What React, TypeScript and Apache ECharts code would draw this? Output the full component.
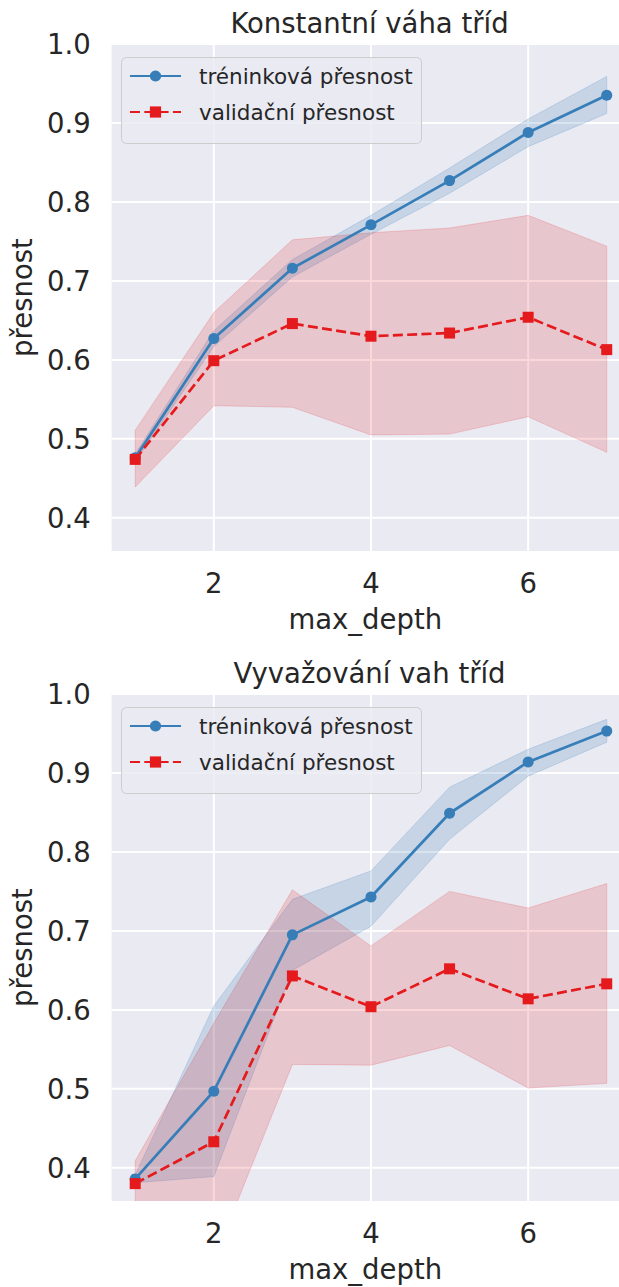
import React, { useEffect, useRef } from "react";
import * as echarts from "echarts";

// ---------- data ----------
const depths = [1, 2, 3, 4, 5, 6, 7];
const xTickValues = [2, 4, 6];
const yTickValues = [0.4, 0.5, 0.6, 0.7, 0.8, 0.9, 1.0];

const panelTitles = ["Konstantní váha tříd", "Vyvažování vah tříd"];
const xAxisLabel = "max_depth";
const yAxisLabel = "přesnost";
const trainName = "tréninková přesnost";
const valName = "validační přesnost";

// panel 1 – constant class weight
const trainMean1 = [0.476, 0.627, 0.716, 0.771, 0.827, 0.888, 0.935];
const trainUpper1 = [0.481, 0.637, 0.727, 0.783, 0.843, 0.905, 0.959];
const trainLower1 = [0.471, 0.617, 0.705, 0.759, 0.811, 0.870, 0.912];
const valMean1 = [0.474, 0.599, 0.646, 0.630, 0.634, 0.654, 0.613];
const valUpper1 = [0.511, 0.660, 0.752, 0.761, 0.767, 0.783, 0.744];
const valLower1 = [0.439, 0.542, 0.540, 0.505, 0.506, 0.528, 0.483];

// panel 2 – balanced class weights
const trainMean2 = [0.386, 0.497, 0.695, 0.743, 0.849, 0.914, 0.953];
const trainUpper2 = [0.391, 0.605, 0.740, 0.776, 0.882, 0.930, 0.968];
const trainLower2 = [0.381, 0.389, 0.650, 0.706, 0.816, 0.896, 0.939];
const valMean2 = [0.380, 0.433, 0.643, 0.604, 0.652, 0.614, 0.633];
const valUpper2 = [0.409, 0.583, 0.752, 0.681, 0.750, 0.729, 0.760];
const valLower2 = [0.351, 0.283, 0.531, 0.530, 0.555, 0.501, 0.507];

// ---------- style / layout ----------
const FONT = '"DejaVu Sans", sans-serif';
const TEXT = "#262626";
const BLUE = "#377eb8";
const RED = "#e41a1c";
const BG = "#EAEAF2";
const GRID_LEFT = 109;
const GRID_WIDTH = 510;
const GRID_HEIGHT = 507;
const GRID_TOPS = [44, 694];
const TITLE_X = 369.5;
const X_MIN = 0.7;
const X_MAX = 7.156;
const Y_MIN = 0.358;
const Y_MAX = 1.0;

const panels = [
  { trainMean: trainMean1, trainUpper: trainUpper1, trainLower: trainLower1, valMean: valMean1, valUpper: valUpper1, valLower: valLower1 },
  { trainMean: trainMean2, trainUpper: trainUpper2, trainLower: trainLower2, valMean: valMean2, valUpper: valUpper2, valLower: valLower2 },
];

function gridLineSeries(gi: number) {
  return {
    type: "custom",
    xAxisIndex: gi,
    yAxisIndex: gi,
    clip: true,
    silent: true,
    z: 1,
    data: [[X_MIN, Y_MIN]],
    renderItem: (params: any, api: any) => {
      const cs = params.coordSys;
      const children: any[] = [];
      xTickValues.forEach((v) => {
        const p = api.coord([v, Y_MIN]);
        children.push({ type: "line", shape: { x1: p[0], y1: cs.y, x2: p[0], y2: cs.y + cs.height }, style: { stroke: "#ffffff", lineWidth: 2 } });
      });
      yTickValues.forEach((v) => {
        const p = api.coord([X_MIN, v]);
        children.push({ type: "line", shape: { x1: cs.x, y1: p[1], x2: cs.x + cs.width, y2: p[1] }, style: { stroke: "#ffffff", lineWidth: 2 } });
      });
      return { type: "group", children };
    },
  };
}

function bandSeries(gi: number, lower: number[], upper: number[], fill: string, edge: string, z: number) {
  return {
    type: "custom",
    xAxisIndex: gi,
    yAxisIndex: gi,
    clip: true,
    silent: true,
    z,
    data: depths.map((d, i) => [d, lower[i], upper[i]]),
    encode: { x: 0, y: [1, 2] },
    renderItem: (params: any, api: any) => {
      if (params.dataIndexInside !== 0) return null;
      const top: number[][] = [];
      const bottom: number[][] = [];
      for (let i = 0; i < depths.length; i++) {
        top.push(api.coord([api.value(0, i), api.value(2, i)]));
        bottom.push(api.coord([api.value(0, i), api.value(1, i)]));
      }
      return {
        type: "polygon",
        shape: { points: top.concat(bottom.reverse()) },
        style: { fill, stroke: edge, lineWidth: 1 },
      };
    },
  };
}

function buildOption() {
  const series: any[] = [];
  panels.forEach((p, gi) => {
    series.push(gridLineSeries(gi));
    series.push(bandSeries(gi, p.trainLower, p.trainUpper, "rgba(55,126,184,0.2)", "rgba(55,126,184,0.2)", 2));
    series.push(bandSeries(gi, p.valLower, p.valUpper, "rgba(228,26,28,0.17)", "rgba(228,26,28,0.17)", 2));
    series.push({
      type: "line",
      name: trainName,
      xAxisIndex: gi,
      yAxisIndex: gi,
      data: depths.map((d, i) => [d, p.trainMean[i]]),
      symbol: "circle",
      symbolSize: 11,
      lineStyle: { color: BLUE, width: 2.7 },
      itemStyle: { color: BLUE },
      emphasis: { disabled: true },
      z: 3,
    });
    series.push({
      type: "line",
      name: valName,
      xAxisIndex: gi,
      yAxisIndex: gi,
      data: depths.map((d, i) => [d, p.valMean[i]]),
      symbol: "rect",
      symbolSize: 11,
      lineStyle: { color: RED, width: 2.7, type: [10, 4.3] },
      itemStyle: { color: RED },
      emphasis: { disabled: true },
      z: 3,
    });
  });

  const graphic: any[] = [];
  GRID_TOPS.forEach((t, gi) => {
    graphic.push({
      type: "text",
      x: TITLE_X,
      y: t - 21,
      z: 70,
      style: { text: panelTitles[gi], fill: TEXT, fontSize: 27.5, fontFamily: FONT, align: "center", verticalAlign: "middle" },
    });
    graphic.push({
      type: "rect",
      z: 50,
      shape: { x: 121.5, y: t + 13.5, width: 300, height: 86, r: 5 },
      style: { fill: "rgba(234,234,242,0.8)", stroke: "#cccccc", lineWidth: 1 },
    });
  });

  return {
    animation: false,
    backgroundColor: "#ffffff",
    textStyle: { fontFamily: FONT },
    grid: GRID_TOPS.map((t) => ({
      left: GRID_LEFT,
      top: t,
      width: GRID_WIDTH,
      height: GRID_HEIGHT,
      show: true,
      backgroundColor: BG,
      borderWidth: 0,
    })),
    xAxis: GRID_TOPS.map((_, gi) => ({
      type: "value",
      gridIndex: gi,
      min: X_MIN,
      max: X_MAX,
      axisLine: { show: false },
      axisTick: { show: false },
      splitLine: { show: false },
      axisLabel: {
        customValues: xTickValues,
        margin: 18,
        fontSize: 27.5,
        color: TEXT,
        fontFamily: FONT,
        formatter: (v: number) => String(v),
      },
      name: xAxisLabel,
      nameLocation: "middle",
      nameGap: 54,
      nameTextStyle: { fontSize: 27.5, color: TEXT, fontFamily: FONT },
    })),
    yAxis: GRID_TOPS.map((_, gi) => ({
      type: "value",
      gridIndex: gi,
      min: Y_MIN,
      max: Y_MAX,
      axisLine: { show: false },
      axisTick: { show: false },
      splitLine: { show: false },
      axisLabel: {
        customValues: yTickValues,
        margin: 21,
        fontSize: 27.5,
        color: TEXT,
        fontFamily: FONT,
        formatter: (v: number) => v.toFixed(1),
      },
      name: yAxisLabel,
      nameLocation: "middle",
      nameRotate: 90,
      nameGap: 67,
      nameTextStyle: { fontSize: 27.5, color: TEXT, fontFamily: FONT },
    })),
    legend: GRID_TOPS.map((t) => ({
      orient: "vertical",
      left: 129,
      top: t + 18,
      padding: 0,
      itemWidth: 51,
      itemHeight: 14,
      itemGap: 8,
      selectedMode: false,
      z: 60,
      data: [trainName, valName],
      textStyle: { fontSize: 21.5, color: TEXT, fontFamily: FONT, lineHeight: 28, padding: [0, 0, 0, 13] },
    })),
    graphic,
    series,
  };
}

export default function App() {
  const ref = useRef<HTMLDivElement>(null);
  useEffect(() => {
    if (!ref.current) return;
    const chart = echarts.init(ref.current, undefined, { renderer: "svg" });
    chart.setOption(buildOption() as any);
    return () => chart.dispose();
  }, []);
  return <div ref={ref} style={{ position: "absolute", left: 0, top: 0, width: 619, height: 1287 }} />;
}
